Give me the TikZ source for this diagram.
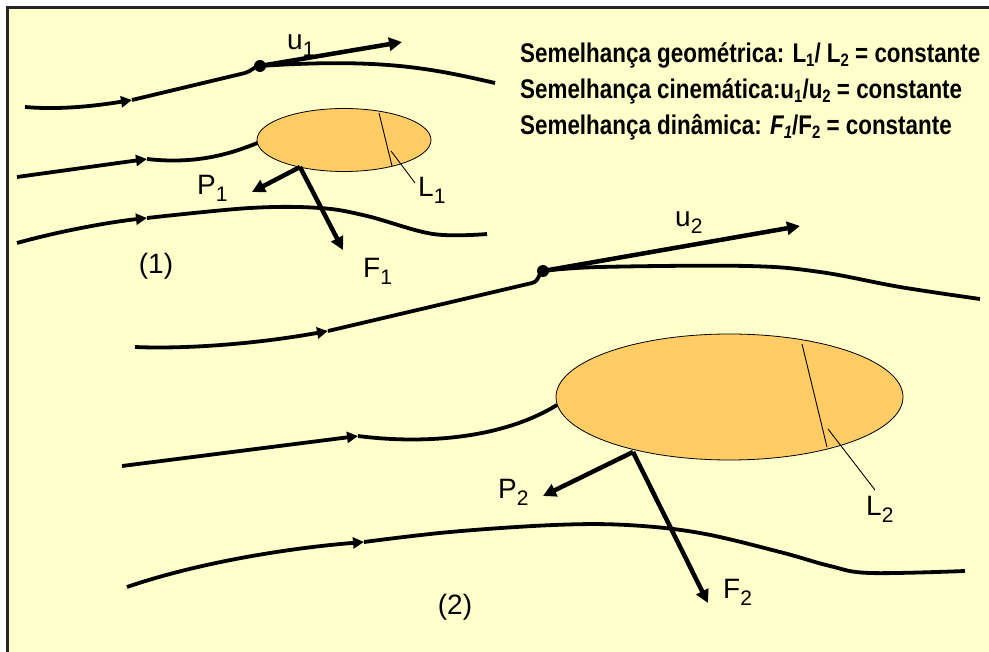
\documentclass[tikz,border=0pt]{standalone}
\usepackage{fontspec}
\setmainfont{Liberation Sans}
\newfontfamily\hdrfont[FakeStretch=0.83]{Liberation Sans}
\usetikzlibrary{arrows.meta,shapes.geometric}
\definecolor{bgyellow}{HTML}{FFFFCC}
\definecolor{bodyfill}{HTML}{FFCC66}
\newcommand\lsub[1]{\raisebox{-7pt}{\fontsize{21}{21}\selectfont #1}}
\newcommand\hsub[1]{\raisebox{-4pt}{\fontsize{18}{18}\selectfont #1}}
\tikzset{
  stream/.style={line width=3.8pt, black},
  midtip/.style={-{Triangle[length=11pt,width=11pt]}},
  vec/.style={line width=4.5pt, black, -{Triangle[length=13pt,width=13pt]}},
  body/.style={ellipse, draw=black, line width=0.8pt, fill=bodyfill, inner sep=0pt},
  thin/.style={line width=0.9pt, black},
  lbl/.style={font=\fontsize{28}{28}\selectfont, inner sep=0pt, anchor=base west},
  hdr/.style={font=\hdrfont\bfseries\fontsize{27}{27}\selectfont, inner sep=0pt, anchor=base west},
  dot/.style={circle, fill=black, inner sep=0pt, minimum size=12pt}
}
\begin{document}
\begin{tikzpicture}[x=1pt,y=-1pt]
\useasboundingbox (0,0) rectangle (989,652);
\fill[bgyellow] (8,8) rectangle (989,652);
\draw[line width=3pt, black!85] (7.5,652) -- (7.5,7.5) -- (989,7.5);

% ---------- scenario (1) ----------
\coordinate (s1a) at (25,107);
\coordinate (s1m) at (132,100);
\coordinate (s1k) at (245,73);
\coordinate (d1) at (260,66);
\coordinate (s1e) at (495,83);
\draw[stream,midtip] (s1a) .. controls (60,110) and (95,106) .. (s1m);
\draw[stream] (s1m) -- (s1k) .. controls (252,71) and (253,67) .. (d1)
  .. controls (380,58) and (430,68) .. (s1e);

\coordinate (s2a) at (17,177);
\coordinate (s2m) at (147,159);
\coordinate (s2e) at (260,142);
\draw[stream,midtip] (s2a) -- (s2m);
\draw[stream] (s2m) .. controls (200,165) and (235,152) .. (s2e);

\coordinate (s3a) at (17,243);
\coordinate (s3m) at (147,218);
\draw[stream,midtip] (s3a) .. controls (60,231) and (110,222) .. (s3m);
\draw[stream] plot[smooth,tension=0.6] coordinates {(147,218) (250,208) (320,208) (367,216) (433,234) (487,234)};

\node[body, minimum width=174pt, minimum height=63pt] (b1) at (344,140) {};
\coordinate (l1a) at (379,113);
\coordinate (l1b) at (392,166);
\draw[thin] (l1a) -- (l1b);
\coordinate (l1p) at (391,151);
\coordinate (l1q) at (415,183);
\draw[thin] (l1p) -- (l1q);

\node[dot] (dot1) at (d1) {};
\coordinate (u1t) at (402,42);
\draw[vec] (dot1.center) -- (u1t);
\coordinate (o1) at (300,167);
\coordinate (p1t) at (252,192);
\coordinate (f1t) at (343,250);
\draw[vec] (o1) -- (p1t);
\draw[vec] (o1) -- (f1t);

\node[lbl] (u1) at (287,50) {u\lsub{1}};
\node[lbl] (P1) at (197,195) {P\lsub{1}};
\node[lbl] (L1) at (418,197) {L\lsub{1}};
\node[lbl] (F1) at (363,278) {F\lsub{1}};
\node[font=\fontsize{28}{28}\selectfont, inner sep=0pt] (n1) at (156,266) {(1)};

% ---------- scenario (2) ----------
\coordinate (s4a) at (135,347);
\coordinate (s4m) at (328,331);
\coordinate (s4k) at (532,283);
\coordinate (d2) at (543,271);
\draw[stream,midtip] (s4a) .. controls (180,349) and (250,345) .. (s4m);
\draw[stream] (s4m) -- (s4k) .. controls (540,281) and (538,273) .. (d2);
\draw[stream] plot[smooth,tension=0.6] coordinates {(543,271) (600,267) (747,266) (820,272) (900,287) (980,299)};

\coordinate (s5a) at (122,466);
\coordinate (s5m) at (358,436);
\coordinate (s5e) at (557,405);
\draw[stream,midtip] (s5a) -- (s5m);
\draw[stream] (s5m) .. controls (420,444) and (500,440) .. (s5e);

\coordinate (s6a) at (127,587);
\coordinate (s6m) at (364,542);
\draw[stream,midtip] (s6a) .. controls (200,562) and (290,548) .. (s6m);
\draw[stream] plot[smooth,tension=0.6] coordinates {(364,542) (450,532) (554,525) (627,525) (700,533) (780,552) (830,566) (870,573) (965,571)};

\node[body, minimum width=347pt, minimum height=126pt] (b2) at (729.5,397) {};
\coordinate (l2a) at (802,344);
\coordinate (l2b) at (827,447);
\draw[thin] (l2a) -- (l2b);
\coordinate (l2p) at (828,429);
\coordinate (l2q) at (875,490);
\draw[thin] (l2p) -- (l2q);

\node[dot] (dot2) at (d2) {};
\coordinate (u2t) at (800,226);
\draw[vec] (dot2.center) -- (u2t);
\coordinate (o2) at (633,452);
\coordinate (p2t) at (543,496);
\coordinate (f2t) at (708,603);
\draw[vec] (o2) -- (p2t);
\draw[vec] (o2) -- (f2t);

\node[lbl] (u2) at (675,227) {u\lsub{2}};
\node[lbl] (P2) at (498,498) {P\lsub{2}};
\node[lbl] (L2) at (866,515) {L\lsub{2}};
\node[lbl] (F2) at (723,598) {F\lsub{2}};
\node[font=\fontsize{28}{28}\selectfont, inner sep=0pt] (n2) at (455,607) {(2)};

% ---------- header ----------
\node[hdr] (h1) at (520,63) {Semelhança geométrica: L\hsub{1}/ L\hsub{2} = constante};
\node[hdr] (h2) at (520,99) {Semelhança cinemática:u\hsub{1}/u\hsub{2} = constante};
\node[hdr] (h3) at (520,135) {Semelhança dinâmica: \textit{F\hsub{1}}/F\hsub{2} = constante};
\end{tikzpicture}
\end{document}
